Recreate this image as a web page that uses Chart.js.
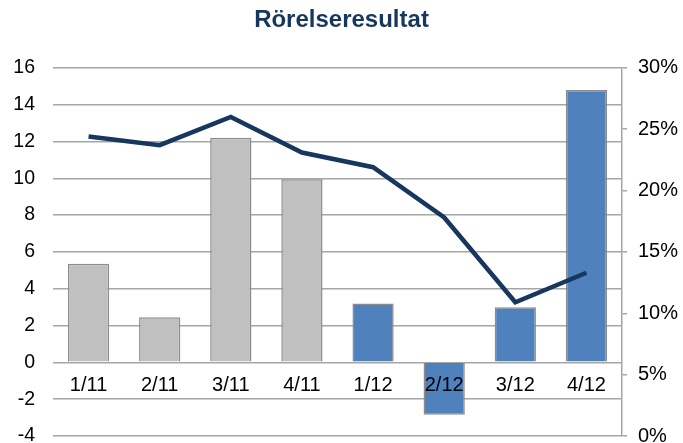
<!DOCTYPE html>
<html lang="sv">
<head>
    <meta charset="UTF-8">
    <title>Rörelseresultat</title>
    <script src="https://cdn.jsdelivr.net/npm/chart.js"></script>
    <style>
        html, body {
            margin: 0;
            padding: 0;
            background: #fff;
        }
        #wrap {
            width: 683px;
            height: 443px;
        }
    </style>
</head>
<body>
    <div id="wrap"><canvas id="chartCanvas"></canvas></div>

    <script>
        // Kvartal
        const quarters = ['1/11', '2/11', '3/11', '4/11', '1/12', '2/12', '3/12', '4/12'];
        // Rörelseresultat (vänster axel)
        const operatingResult = [5.35, 2.45, 12.2, 9.95, 3.2, -2.85, 3.0, 14.8];
        // Rörelsemarginal (höger axel)
        const operatingMargin = [0.244, 0.237, 0.260, 0.231, 0.219, 0.178, 0.109, 0.133];
        // Axlar
        const leftTicks = { min: -4, max: 16, step: 2 };
        const rightTicks = { min: 0, max: 0.30, step: 0.05 };

        const gray = '#c0c0c0';
        const blue = '#4f81bd';
        const navy = '#17375e';
        const gridColor = '#a6a6a6';
        const font = '"Liberation Sans", Arial, sans-serif';

        // 2011 grått, 2012 blått
        const barColors = quarters.map(q => q.endsWith('/11') ? gray : blue);

        const ctx = document.getElementById('chartCanvas').getContext('2d');
        new Chart(ctx, {
            data: {
                labels: quarters,
                datasets: [
                    {
                        type: 'line',
                        data: operatingMargin,
                        yAxisID: 'y1',
                        borderColor: navy,
                        borderWidth: 4.5,
                        pointRadius: 0,
                        tension: 0,
                        order: 0
                    },
                    {
                        type: 'bar',
                        data: operatingResult,
                        yAxisID: 'y',
                        backgroundColor: barColors,
                        borderColor: '#8c8c8c',
                        borderWidth: 1.5,
                        categoryPercentage: 1,
                        barPercentage: 0.58,
                        order: 1
                    }
                ]
            },
            options: {
                responsive: true,
                maintainAspectRatio: false,
                animation: false,
                layout: { padding: { left: 0, right: 0, top: 0, bottom: 0 } },
                plugins: {
                    legend: { display: false },
                    tooltip: { enabled: false },
                    title: {
                        display: true,
                        text: 'Rörelseresultat',
                        color: navy,
                        font: { family: font, size: 24, weight: 'bold' },
                        padding: { top: 6, bottom: 33 }
                    }
                },
                scales: {
                    x: {
                        position: { y: 0 },
                        grid: { display: false, drawTicks: false },
                        border: { display: false },
                        ticks: {
                            z: 1, // etiketter ovanpå staplarna
                            color: '#000',
                            padding: 11,
                            font: { family: font, size: 20 }
                        }
                    },
                    y: {
                        position: 'left',
                        min: leftTicks.min,
                        max: leftTicks.max,
                        ticks: {
                            stepSize: leftTicks.step,
                            color: '#000',
                            padding: 18,
                            font: { family: font, size: 19.5 }
                        },
                        grid: { color: gridColor, lineWidth: 1.5, drawTicks: false },
                        border: { display: false },
                        afterFit: function(scale) {
                            scale.width = 53;
                            scale.paddingTop = 0;
                            scale.paddingBottom = 7;
                        }
                    },
                    y1: {
                        position: 'right',
                        min: rightTicks.min,
                        max: rightTicks.max,
                        ticks: {
                            stepSize: rightTicks.step,
                            color: '#000',
                            padding: 11,
                            font: { family: font, size: 20 },
                            callback: v => Math.round(v * 100) + '%'
                        },
                        grid: {
                            drawOnChartArea: false,
                            color: gridColor,
                            lineWidth: 1.5,
                            tickLength: 5
                        },
                        border: { display: true, color: gridColor, width: 1.5 },
                        afterFit: function(scale) {
                            scale.width = 61;
                            scale.paddingTop = 0;
                            scale.paddingBottom = 7;
                        }
                    }
                }
            }
        });
    </script>
</body>
</html>
